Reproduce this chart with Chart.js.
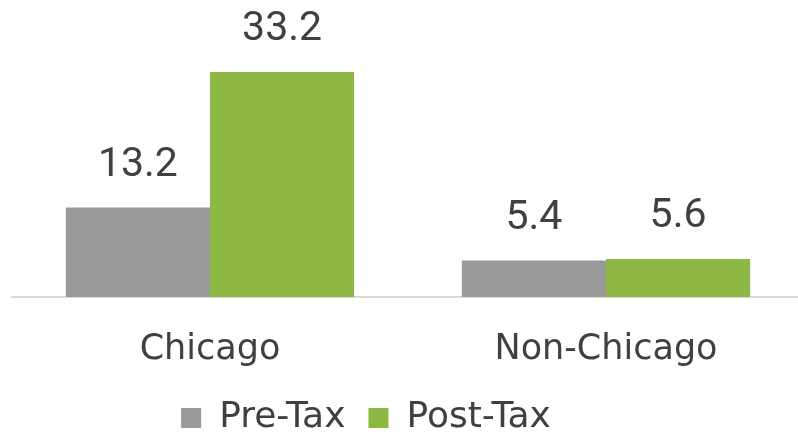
<!DOCTYPE html>
<html>
<head>
<meta charset="utf-8">
<script src="https://cdn.jsdelivr.net/npm/chart.js@4.4.0/dist/chart.umd.min.js"></script>
<style>
  html, body { margin: 0; padding: 0; background: #fff; overflow: hidden; }
  #wrap { position: relative; width: 804px; height: 436px; }
</style>
</head>
<body>
<div id="wrap"><canvas id="taxChart"></canvas></div>
<script>
const categories = ['Chicago', 'Non-Chicago'];
const seriesNames = ['Pre-Tax', 'Post-Tax'];
const preTax = [13.2, 5.4];
const postTax = [33.2, 5.6];
const yTicks = { min: 0, max: 40 };

const textColor = '#404040';
const grey = '#999999';
const green = '#8cb843';

// Value labels above each bar
const barValueLabels = {
    id: 'barValueLabels',
    afterDatasetsDraw(chart) {
        const ctx = chart.ctx;
        ctx.save();
        ctx.font = '41px Roboto';
        ctx.fillStyle = textColor;
        ctx.textAlign = 'center';
        ctx.textBaseline = 'middle';
        chart.data.datasets.forEach((ds, i) => {
            chart.getDatasetMeta(i).data.forEach((bar, j) => {
                ctx.fillText(ds.data[j].toFixed(1), bar.x, bar.y - 42);
            });
        });
        ctx.restore();
    }
};

// Move the legend a little left and down from where the layout puts it
const legendShift = {
    id: 'legendShift',
    afterLayout(chart) {
        const lg = chart.legend;
        lg.left -= 42;
        lg.right -= 42;
        lg.top += 10;
        lg.bottom += 10;
    }
};

new Chart(document.getElementById('taxChart'), {
    type: 'bar',
    data: {
        labels: categories,
        datasets: [
            { label: seriesNames[0], data: preTax, backgroundColor: grey },
            { label: seriesNames[1], data: postTax, backgroundColor: green }
        ]
    },
    options: {
        responsive: true,
        maintainAspectRatio: false,
        animation: false,
        layout: { padding: { left: 12, right: 0, top: 26, bottom: 0 } },
        datasets: {
            bar: { categoryPercentage: 0.728, barPercentage: 1.0 }
        },
        plugins: {
            legend: {
                position: 'bottom',
                labels: {
                    color: textColor,
                    font: { family: 'DejaVu Sans', size: 36 },
                    boxWidth: 20,
                    boxHeight: 20,
                    padding: 23
                }
            },
            tooltip: { enabled: false }
        },
        scales: {
            x: {
                grid: { display: false, drawTicks: false },
                border: { color: '#d9d9d9', width: 2, dash: [2, 1] },
                ticks: {
                    color: textColor,
                    font: { family: 'DejaVu Sans', size: 35, lineHeight: 1 },
                    padding: 35
                },
                afterFit(scale) {
                    scale.height = 70;
                }
            },
            y: {
                display: false,
                min: yTicks.min,
                max: yTicks.max
            }
        }
    },
    plugins: [barValueLabels, legendShift]
});
</script>
</body>
</html>
